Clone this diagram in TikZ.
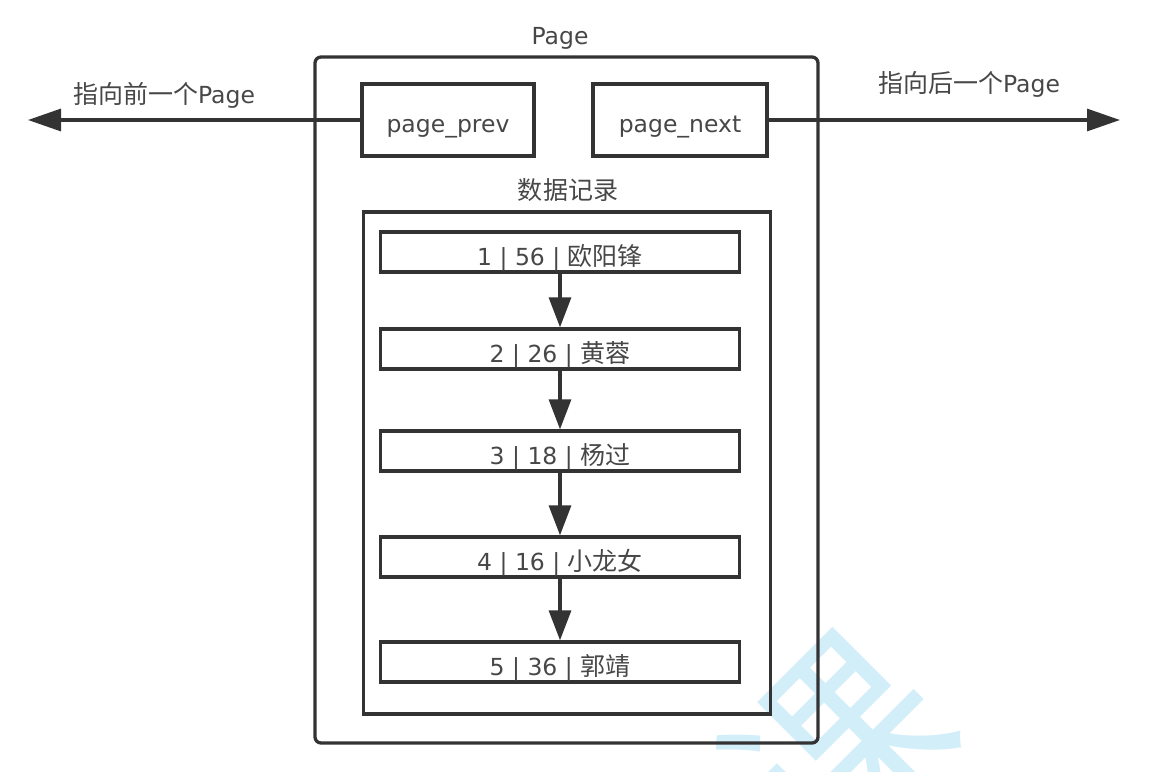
\documentclass[tikz,border=0pt]{standalone}
\usepackage{fontspec}
\setmainfont{DejaVu Sans}
\newfontfamily\cjk[Scale=1.064]{Noto Sans CJK SC}
\usetikzlibrary{arrows.meta}
\definecolor{ink}{HTML}{333333}
\definecolor{txt}{HTML}{474747}
\definecolor{wm}{HTML}{D2EEF9}
\begin{document}
\begin{tikzpicture}[x=1pt,y=-1pt,
  box/.style={draw=ink,line width=3.3pt,rectangle,inner sep=0pt},
  tf/.style={text=txt,font=\fontsize{23.5}{28}\selectfont},
  lbl/.style={tf,inner sep=0pt,anchor=base},
  rec/.style={box,tf,minimum width=359pt,minimum height=40pt,text height=27pt,text depth=1pt},
  ptr/.style={box,tf,minimum height=72pt,text height=25pt,text depth=1pt},
  arr/.style={draw=ink,line width=3.2pt,-{Triangle[length=30pt,width=22pt]}},
  harr/.style={draw=ink,line width=3.2pt,-{Triangle[length=33pt,width=22pt]}}]
\useasboundingbox (0,0) rectangle (1159,771);
\begin{scope}
  \clip (0,0) rectangle (1159,771);
  \node[text=wm,font=\cjk\fontsize{200}{200}\selectfont,rotate=45,inner sep=0pt] (wm) at (838,750) {课};
\end{scope}
% outer page
\node[box,rounded corners=6pt,minimum width=503pt,minimum height=686pt] (page) at (566.5,400) {};
\node[lbl] (pagelbl) at (560,44) {Page};
% prev / next
\node[ptr,minimum width=172pt] (prev) at (448,120) {page\_prev};
\node[ptr,minimum width=174pt] (next) at (680,120) {page\_next};
\coordinate (lend) at (28,120);
\coordinate (rend) at (1120,120);
\draw[harr] (prev.west) -- (lend);
\draw[harr] (next.east) -- (rend);
\node[lbl] (lprev) at (164,103) {{\cjk 指向前一个}Page};
\node[lbl] (lnext) at (969,92) {{\cjk 指向后一个}Page};
% records
\node[lbl] (datalbl) at (568,199) {\cjk 数据记录};
\node[box,minimum width=407pt,minimum height=502pt] (inner) at (567,463) {};
\node[rec] (r1) at (560,252) {1 | 56 | {\cjk 欧阳锋}};
\node[rec] (r2) at (560,349) {2 | 26 | {\cjk 黄蓉}};
\node[rec] (r3) at (560,451) {3 | 18 | {\cjk 杨过}};
\node[rec] (r4) at (560,557) {4 | 16 | {\cjk 小龙女}};
\node[rec] (r5) at (560,662) {5 | 36 | {\cjk 郭靖}};
\draw[arr] (r1) -- (r2);
\draw[arr] (r2) -- (r3);
\draw[arr] (r3) -- (r4);
\draw[arr] (r4) -- (r5);
\end{tikzpicture}
\end{document}
